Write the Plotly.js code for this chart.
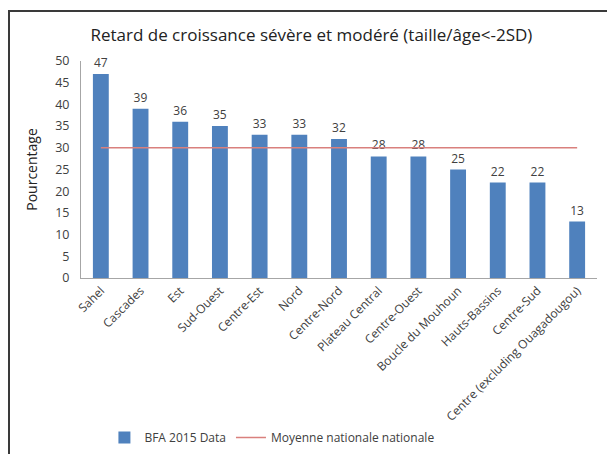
<!DOCTYPE html>
<html><head><meta charset="utf-8">
<script src="https://cdn.plot.ly/plotly-3.0.1.min.js"></script>
<style>
html,body{margin:0;padding:0;background:#fff;}
#wrap{position:relative;width:607px;height:454px;}
#chart{width:607px;height:454px;}
#frame{position:absolute;left:8px;top:10px;width:600px;height:450px;border-left:2px solid #3a3a3a;border-top:2px solid #3a3a3a;pointer-events:none;}
</style></head>
<body>
<div id="wrap"><div id="chart"></div><div id="frame"></div></div>
<script>
const regions = ["Sahel","Cascades","Est","Sud-Ouest","Centre-Est","Nord","Centre-Nord","Plateau Central","Centre-Ouest","Boucle du Mouhoun","Hauts-Bassins","Centre-Sud","Centre (excluding Ouagadougou)"];
const values = [47,39,36,35,33,33,32,28,28,25,22,22,13];
const nationalMean = [30,30,30,30,30,30,30,30,30,30,30,30,30];

const font = "Open Sans, sans-serif";
const traces = [
  {type:'bar', x:regions, y:values, name:'BFA 2015 Data',
   marker:{color:'#4F81BD'}, width:0.4,
   text:values.map(String), textposition:'outside', cliponaxis:false,
   textfont:{family:font,size:12,color:'#404040'}},
  {type:'scatter', mode:'lines', x:regions, y:nationalMean, name:'Moyenne nationale nationale',
   line:{color:'#D9807D', width:1.5}}
];
const layout = {
  width:607, height:454,
  margin:{l:81, r:10, t:61, b:176, autoexpand:false},
  paper_bgcolor:'#fff', plot_bgcolor:'#fff',
  font:{family:font, color:'#404040', size:12},
  title:{text:'Retard de croissance sévère et modéré (taille/âge<-2SD)',
         font:{family:font,size:17,color:'#222'}, x:0.513, xanchor:'center', y:0.923, yanchor:'middle'},
  xaxis:{type:'category', range:[-0.5,12.5], showline:true, linecolor:'#A6A6A6', linewidth:1, automargin:false,
         tickangle:-45, ticks:'', tickfont:{family:font,size:12,color:'#404040'}, showgrid:false, fixedrange:true},
  yaxis:{range:[0,50], dtick:5, showline:true, linecolor:'#A6A6A6', linewidth:1, showgrid:false, automargin:false,
         zeroline:false, ticks:'', ticklabelstandoff:8, tickfont:{family:font,size:12.5,color:'#404040'},
         title:{text:'Pourcentage', font:{family:font,size:14,color:'#222'}, standoff:14}},
  showlegend:true,
  legend:{orientation:'h', x:0.37, xanchor:'center', y:-0.735, yanchor:'middle',
          font:{family:font,size:12,color:'#404040'}, itemwidth:30, traceorder:'normal'},
  bargap:0.6
};
Plotly.newPlot('chart', traces, layout, {displayModeBar:false, staticPlot:true});
</script>
</body></html>
